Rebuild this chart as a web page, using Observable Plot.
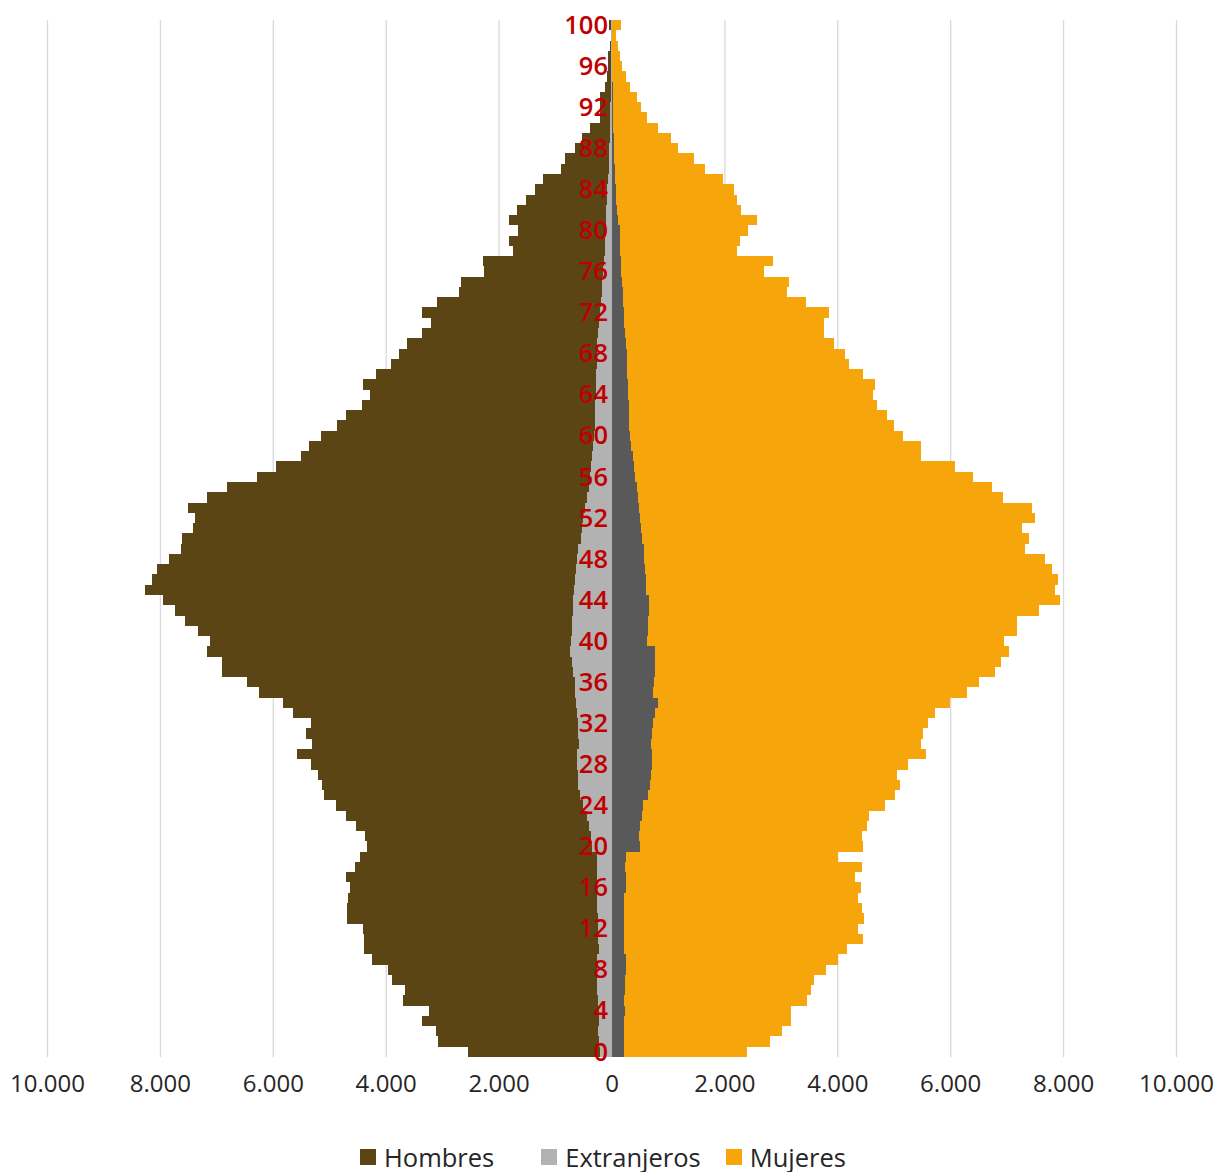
<!DOCTYPE html>
<html>
<head>
<meta charset="utf-8">
<script src="https://cdn.jsdelivr.net/npm/d3@7"></script>
<script src="https://cdn.jsdelivr.net/npm/@observablehq/plot@0.6"></script>
<style>
  html, body { margin: 0; padding: 0; background: #fff; }
  body { width: 1218px; font-family: "Open Sans", "Noto Sans", sans-serif; }
  #legend { display: flex; justify-content: center; align-items: center; margin-top: 22px; font-size: 25.5px; color: #262626; line-height: 30px; padding-right: 12px; }
  #legend .item { display: flex; align-items: center; }
  #legend .sw { width: 16px; height: 16px; margin-right: 8px; }
</style>
</head>
<body>
<div id="chart"></div>
<div id="legend"></div>
<script>
// Ages 0..100
const ages = d3.range(0, 101);

const hombres = [
  2544, 3076, 3112, 3360, 3236, 3697, 3661, 3892, 3963, 4246,
  4388, 4388, 4406, 4689, 4689, 4672, 4636, 4707, 4548, 4459,
  4335, 4370, 4530, 4707, 4885, 5097, 5133, 5204, 5328, 5576,
  5310, 5416, 5328, 5647, 5824, 6250, 6463, 6906, 6906, 7172,
  7119, 7331, 7562, 7739, 7952, 8271, 8147, 8058, 7845, 7633,
  7615, 7420, 7384, 7509, 7172, 6817, 6285, 5948, 5505, 5363,
  5150, 4867, 4707, 4424, 4282, 4406, 4175, 3909, 3768, 3626,
  3360, 3200, 3360, 3094, 2704, 2668, 2261, 2278, 1746, 1817,
  1658, 1817, 1675, 1516, 1356, 1214, 895, 824, 647, 523,
  381, 210, 204, 204, 115, 80, 62, 62, 27, 15,
  39
];

const mujeres = [
  2402, 2810, 3023, 3183, 3183, 3466, 3537, 3590, 3803, 4016,
  4175, 4459, 4370, 4477, 4441, 4370, 4424, 4317, 4441, 4016,
  4459, 4441, 4530, 4565, 4849, 5026, 5115, 5062, 5257, 5576,
  5487, 5523, 5612, 5736, 6002, 6303, 6516, 6800, 6906, 7048,
  6959, 7190, 7190, 7580, 7952, 7863, 7916, 7810, 7686, 7331,
  7402, 7278, 7509, 7455, 6941, 6746, 6409, 6090, 5487, 5487,
  5168, 5009, 4885, 4707, 4636, 4672, 4459, 4211, 4140, 3945,
  3768, 3768, 3856, 3448, 3112, 3147, 2704, 2863, 2225, 2278,
  2420, 2580, 2296, 2225, 2172, 1977, 1658, 1463, 1179, 1055,
  824, 629, 523, 452, 328, 251, 186, 151, 115, 80,
  168
];

const extranjerosHombres = [
  210, 230, 234, 222, 222, 240, 250, 250, 263, 250,
  229, 234, 234, 234, 250, 263, 263, 263, 263, 263,
  340, 360, 393, 429, 500, 559, 588, 600, 617, 617,
  576, 588, 600, 617, 629, 640, 647, 680, 706, 736,
  724, 706, 706, 690, 677, 665, 647, 630, 617, 590,
  546, 520, 500, 470, 440, 400, 380, 360, 340, 320,
  305, 300, 290, 285, 281, 275, 270, 263, 263, 250,
  240, 225, 204, 190, 175, 160, 145, 135, 120, 110,
  100, 95, 90, 80, 74, 60, 50, 45, 40, 35,
  30, 25, 20, 15, 12, 10, 8, 5, 4, 3,
  3
];

const extranjerosMujeres = [
  222, 222, 222, 222, 234, 222, 234, 234, 252, 252,
  222, 222, 222, 222, 222, 222, 252, 252, 239, 252,
  505, 488, 505, 541, 558, 647, 683, 700, 718, 718,
  700, 718, 736, 771, 825, 736, 754, 771, 771, 771,
  630, 647, 647, 665, 665, 612, 612, 594, 576, 576,
  535, 520, 505, 490, 476, 450, 417, 395, 375, 350,
  328, 315, 310, 305, 298, 290, 280, 269, 269, 255,
  239, 230, 222, 210, 204, 190, 168, 160, 151, 151,
  151, 115, 92, 85, 80, 60, 55, 50, 45, 40,
  35, 30, 28, 25, 20, 15, 12, 10, 8, 5,
  5
];

const ageLabels = d3.range(0, 101, 4);
const xTicks = d3.range(-10000, 10001, 2000);
const seriesNames = ["Hombres", "Extranjeros", "Mujeres"];
const colors = { Hombres: "#5C4515", Extranjeros: "#B2B2B2", Mujeres: "#F6A50B", ExtranjerosM: "#595959" };

const rows = ages.map((a, i) => ({
  age: a,
  hombres: hombres[i],
  mujeres: mujeres[i],
  extH: extranjerosHombres[i],
  extM: extranjerosMujeres[i]
}));

const esLocale = d3.formatLocale({ decimal: ",", thousands: ".", grouping: [3], currency: ["", " €"] });
const fmt = esLocale.format(",");

const barOpts = { y: "age", x1: 0, shapeRendering: "crispEdges" };

const chart = Plot.plot({
  width: 1218,
  height: 1120,
  marginLeft: 47,
  marginRight: 42,
  marginTop: 20,
  marginBottom: 63,
  style: { fontFamily: "'Open Sans', 'Noto Sans', sans-serif", fontSize: "24px", color: "#262626", background: "#fff" },
  x: { domain: [-10000, 10000], label: null },
  y: { domain: d3.range(100, -1, -1), padding: 0, round: false, axis: null },
  marks: [
    Plot.ruleX(xTicks, { stroke: "#D9D9D9", strokeWidth: 1.3 }),
    Plot.barX(rows, { ...barOpts, x2: d => -d.hombres, fill: colors.Hombres }),
    Plot.barX(rows, { ...barOpts, x2: d => d.mujeres, fill: colors.Mujeres }),
    Plot.barX(rows, { ...barOpts, x2: d => -d.extH, fill: colors.Extranjeros }),
    Plot.barX(rows, { ...barOpts, x2: d => d.extM, fill: colors.ExtranjerosM }),
    Plot.text(ageLabels, { y: d => d, x: () => 0, text: d => String(d), textAnchor: "end", dx: -4, fill: "#C00000", fontSize: 25.5, fontWeight: 600 }),
    Plot.axisX({ ticks: xTicks, tickFormat: d => fmt(Math.abs(d)), tickSize: 0, tickPadding: 17, fontSize: 24, label: null })
  ]
});
document.getElementById("chart").appendChild(chart);

const legend = document.getElementById("legend");
const legendColors = [colors.Hombres, colors.Extranjeros, colors.Mujeres];
const gaps = [47, 25, 0];
seriesNames.forEach((name, i) => {
  const item = document.createElement("div");
  item.className = "item";
  item.style.marginRight = gaps[i] + "px";
  const sw = document.createElement("div");
  sw.className = "sw";
  sw.style.background = legendColors[i];
  const t = document.createElement("span");
  t.textContent = name;
  item.appendChild(sw);
  item.appendChild(t);
  legend.appendChild(item);
});
</script>
</body>
</html>
